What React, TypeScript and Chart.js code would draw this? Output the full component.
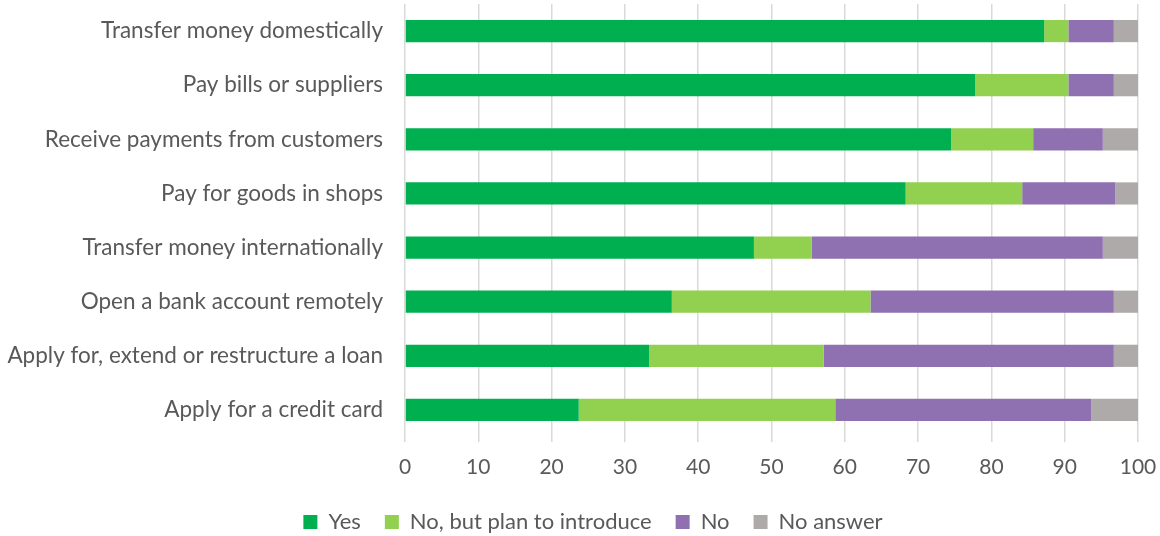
import React, { useEffect, useRef } from "react";
import { Chart, registerables } from "chart.js";

Chart.register(...registerables);

const categories = [
  "Transfer money domestically",
  "Pay bills or suppliers",
  "Receive payments from customers",
  "Pay for goods in shops",
  "Transfer money internationally",
  "Open a bank account remotely",
  "Apply for, extend or restructure a loan",
  "Apply for a credit card",
];

const yesValues = [87.2, 77.8, 74.5, 68.3, 47.6, 36.4, 33.3, 23.7];
const planValues = [3.3, 12.7, 11.2, 15.9, 7.9, 27.1, 23.8, 35.0];
const noValues = [6.2, 6.2, 9.5, 12.7, 39.7, 33.2, 39.6, 34.9];
const naValues = [3.3, 3.3, 4.8, 3.1, 4.8, 3.3, 3.3, 6.4];

const seriesNames = ["Yes", "No, but plan to introduce", "No", "No answer"];
const seriesColors = ["#00B050", "#92D050", "#8F70B0", "#AEAAAA"];

const xTicks = [0, 10, 20, 30, 40, 50, 60, 70, 80, 90, 100];

const FONT = "Lato, 'Open Sans', sans-serif";
const LEGEND_SHIFT = 48;

export default function App() {
  const ref = useRef<HTMLCanvasElement | null>(null);

  useEffect(() => {
    document.body.style.margin = "0";
    const canvas = ref.current;
    if (!canvas) return;
    const values = [yesValues, planValues, noValues, naValues];
    const shiftLegend = {
      id: "shiftLegend",
      afterLayout(chart: any) {
        if (chart.legend) chart.legend.left += LEGEND_SHIFT;
      },
    };
    const chart = new Chart(canvas, {
      type: "bar",
      data: {
        labels: categories,
        datasets: seriesNames.map((name, i) => ({
          label: name,
          data: values[i],
          backgroundColor: seriesColors[i],
          borderWidth: 0,
          barPercentage: 0.41,
          categoryPercentage: 1,
        })),
      },
      plugins: [shiftLegend],
      options: {
        indexAxis: "y",
        animation: false,
        responsive: false,
        maintainAspectRatio: false,
        layout: { padding: { top: 4, right: 22, left: 0, bottom: -7 } },
        plugins: {
          tooltip: { enabled: false },
          legend: {
            position: "bottom",
            labels: {
              boxWidth: 14,
              boxHeight: 14,
              padding: 24,
              color: "#595959",
              font: { family: FONT, size: 22 },
            },
          },
        },
        scales: {
          x: {
            stacked: true,
            min: 0,
            max: 100,
            afterBuildTicks: (scale: any) => {
              scale.ticks = xTicks.map((v) => ({ value: v }));
            },
            grid: {
              color: "#D9D9D9",
              lineWidth: 1.5,
              drawTicks: true,
              tickLength: 5,
            },
            border: { display: false },
            ticks: {
              color: "#595959",
              padding: 13,
              font: { family: FONT, size: 21 },
            },
            afterFit: (scale: any) => {
              scale.height = 50;
              scale.paddingLeft = 0;
              scale.paddingRight = 0;
            },
          },
          y: {
            stacked: true,
            grid: { display: false, drawTicks: false },
            border: { display: false },
            ticks: {
              color: "#595959",
              padding: 22,
              font: { family: FONT, size: 22.5 },
            },
            afterFit: (scale: any) => {
              scale.width = 405;
              scale.paddingTop = 0;
              scale.paddingBottom = 0;
            },
          },
        },
      },
    });
    return () => chart.destroy();
  }, []);

  return (
    <div style={{ width: 1160, height: 536 }}>
      <canvas ref={ref} width={1160} height={536} style={{ display: "block" }} />
    </div>
  );
}
